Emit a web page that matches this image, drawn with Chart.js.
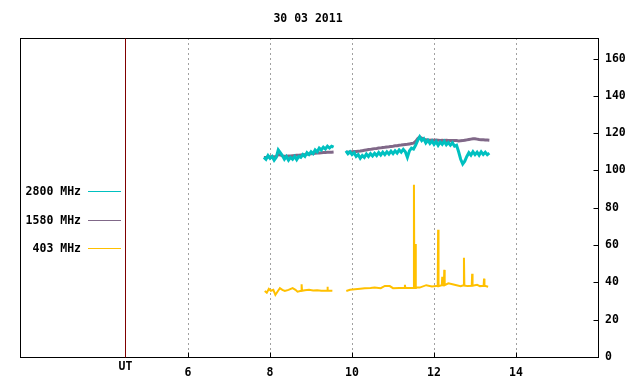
<!DOCTYPE html>
<html><head><meta charset="utf-8">
<script src="https://cdn.jsdelivr.net/npm/chart.js@4"></script>
<style>html,body{margin:0;padding:0;background:#fff}</style>
</head><body>
<canvas id="c" width="640" height="384"></canvas>
<script>
const chartTitle = '30 03 2011';
const xTicks = [6, 8, 10, 12, 14];
const yTicks = [0, 20, 40, 60, 80, 100, 120, 140, 160];
const utHour = 4.46;
const utLabel = 'UT';
const seriesNames = ['2800 MHz', '1580 MHz', '403 MHz'];

const timesUT = [7.85,7.90,7.95,8.00,8.05,8.10,8.15,8.20,8.25,8.30,8.35,8.40,8.45,8.50,8.55,8.60,8.65,8.70,8.75,8.80,8.85,8.90,8.95,9.00,9.05,9.10,9.15,9.20,9.25,9.30,9.35,9.40,9.45,9.50,9.55,
  9.70,
  9.85,9.90,9.95,
  10.00,10.05,10.10,10.15,10.20,10.25,10.30,10.35,10.40,10.45,10.50,10.55,10.60,10.65,10.70,10.75,10.80,10.85,10.90,10.95,
  11.00,11.05,11.10,11.15,11.20,11.25,11.30,11.35,11.40,11.45,11.50,11.55,11.60,11.65,11.70,11.75,11.80,11.85,11.90,11.95,
  12.00,12.05,12.10,12.15,12.20,12.25,12.30,12.35,12.40,12.45,12.50,12.55,12.60,12.65,12.70,12.75,12.80,12.85,12.90,12.95,
  13.00,13.05,13.10,13.15,13.20,13.25,13.30,13.35];

const mhz2800 = [107,106,108,106.5,107.5,105.5,107,111,109.5,108,106,107.5,105.5,107,106,107.5,105.8,107.5,107,108.5,107.5,109.5,108.5,110,109,111,110,112,111,112.5,111.5,113,112,113,112.5,
  null,
  110.5,109,110,
  108.5,109.5,107.5,108.5,106.5,108,107,108.8,107.5,109,107.8,109.2,108,109.6,108.3,109.8,108.5,110,108.8,110.3,
  109,110.5,109.3,111,109.8,111.3,110,107,110.5,112,111.5,113.5,116,118,116,117,114.8,116.2,114.5,115.8,
  114,115.5,113.5,115.2,114,115.6,113.8,115,113.6,114.8,113,113.5,110,106,103.5,105,107.5,109.5,108.2,110,
  108.5,109.8,108.2,110,108.6,109.8,108.5,109.3];

const mhz1580 = [107,107,107.2,107.3,107.3,107.4,107.5,108.5,108.3,107.8,107.6,107.6,107.7,107.8,107.9,108,108.1,108.2,108.3,108.4,108.5,108.7,108.8,109,109.1,109.2,109.3,109.4,109.5,109.6,109.6,109.7,109.8,109.8,109.9,
  null,
  109.7,109.8,109.9,
  110,110.1,110.2,110.3,110.4,110.6,110.8,111,111.2,111.3,111.5,111.7,111.8,112,112.1,112.3,112.4,112.6,112.7,112.9,
  113,113.2,113.3,113.5,113.6,113.8,113.9,114,114.2,114.4,114.6,115.5,117,118,117.3,116.8,116.4,116.3,116.2,116.3,
  116.2,116.3,116.2,116.1,116.2,116.1,116.2,116.1,116,116.1,116,116,115.8,115.9,116,116.2,116.4,116.6,116.8,117,
  117,116.8,116.6,116.5,116.4,116.3,116.3,116.2];

const times403 = [7.87,7.92,7.97,8.02,8.08,8.13,8.18,8.24,8.30,8.36,8.45,8.55,8.62,8.67,8.76,8.77,8.78,8.85,8.95,9.05,9.15,9.25,9.39,9.40,9.41,9.52,
  9.70,
  9.86,9.95,10.07,10.20,10.31,10.45,10.55,10.70,10.80,10.92,11.00,11.15,11.28,11.29,11.30,11.42,11.50,11.51,11.52,11.545,11.55,11.56,11.65,11.81,11.95,
  12.05,12.09,12.10,12.11,12.19,12.20,12.21,12.24,12.25,12.26,12.35,12.45,12.55,12.65,12.72,12.73,12.74,12.82,12.92,12.93,12.94,13.05,13.12,13.21,13.22,13.23,13.32];
const mhz403 = [35.4,34.5,36.5,35.5,36,33.3,35,36.9,36,35.4,36,36.9,36,35,35.5,39,35.5,35.8,36,35.6,35.8,35.5,35.6,37.6,35.6,35.5,
  null,
  35.4,36,36.3,36.6,36.9,37,37.2,36.9,38.1,38,36.9,37,37,38.7,37,37,37,92.3,37,37,60.6,37.2,37.2,38.5,37.8,
  38,38,68.2,38,38.5,43,38.5,38.5,46.7,38.5,39.5,39,38.5,38,38.5,53.2,38.3,38,38.2,44.6,38.2,38.7,38,38.2,42,38.2,37.7];

const FONT = '"DejaVu Sans Mono", "Liberation Mono", monospace';
const toPts = (xs, ys) => xs.map((t, i) => ({x: t, y: ys[i]}));

const decor = {
  id: 'decor',
  beforeDatasetsDraw(chart) {
    const {ctx, chartArea: a, scales: {x}} = chart;
    ctx.save();
    ctx.strokeStyle = '#a0a0a0';
    ctx.lineWidth = 1;
    ctx.setLineDash([2, 3]);
    xTicks.forEach(v => {
      const px = Math.round(x.getPixelForValue(v)) + 0.5;
      ctx.beginPath(); ctx.moveTo(px, a.top); ctx.lineTo(px, a.bottom); ctx.stroke();
    });
    ctx.restore();
  },
  afterDraw(chart) {
    const {ctx, chartArea: a, scales: {x, y}} = chart;
    ctx.save();
    ctx.setLineDash([]);
    ctx.strokeStyle = '#000';
    ctx.lineWidth = 1;
    const L = Math.round(a.left) + 0.5, R = Math.round(a.right) + 0.5;
    const T = Math.round(a.top) + 0.5, B = Math.round(a.bottom) + 0.5;
    ctx.strokeRect(L, T, R - L, B - T);
    xTicks.forEach(v => {
      const px = Math.round(x.getPixelForValue(v)) + 0.5;
      ctx.beginPath(); ctx.moveTo(px, B); ctx.lineTo(px, B - 5); ctx.stroke();
    });
    yTicks.forEach(v => {
      const py = Math.round(y.getPixelForValue(v)) + 0.5;
      ctx.beginPath(); ctx.moveTo(R, py); ctx.lineTo(R - 5, py); ctx.stroke();
    });
    const ux = Math.round(x.getPixelForValue(utHour)) + 0.5;
    ctx.strokeStyle = '#800000';
    ctx.beginPath(); ctx.moveTo(ux, T); ctx.lineTo(ux, B); ctx.stroke();
    ctx.fillStyle = '#000';
    ctx.font = 'bold 11.5px ' + FONT;
    ctx.textAlign = 'center'; ctx.textBaseline = 'middle';
    ctx.fillText(utLabel, ux, 367);
    ctx.fillText(chartTitle, 308, 19.5);
    chart.data.datasets.forEach((ds, i) => {
      const ly = 191 + i * 28.6;
      ctx.textAlign = 'right';
      ctx.fillStyle = '#000';
      ctx.fillText(ds.label, 81, ly + 1);
      ctx.strokeStyle = ds.borderColor;
      ctx.lineWidth = 1;
      const yy = Math.round(ly) + 0.5;
      ctx.beginPath(); ctx.moveTo(88, yy); ctx.lineTo(121, yy); ctx.stroke();
    });
    ctx.restore();
  }
};

new Chart(document.getElementById('c'), {
  type: 'line',
  data: {
    datasets: [
      {label: seriesNames[0], data: toPts(timesUT, mhz2800), borderColor: '#00c0c0', borderWidth: 3, pointRadius: 0, tension: 0, spanGaps: false, order: 0},
      {label: seriesNames[1], data: toPts(timesUT, mhz1580), borderColor: '#806888', borderWidth: 3, pointRadius: 0, tension: 0, spanGaps: false, order: 1},
      {label: seriesNames[2], data: toPts(times403, mhz403), borderColor: '#ffc000', borderWidth: 2, pointRadius: 0, tension: 0, spanGaps: false, order: 2}
    ]
  },
  options: {
    responsive: false,
    animation: false,
    devicePixelRatio: 1,
    layout: {padding: {top: 38, left: 20, right: 0, bottom: 0}},
    plugins: {legend: {display: false}, tooltip: {enabled: false}, title: {display: false}},
    scales: {
      x: {
        type: 'linear', min: 1.9, max: 16,
        afterBuildTicks: s => { s.ticks = xTicks.map(v => ({value: v})); },
        afterFit: s => { s.height = 27; },
        grid: {display: false, drawTicks: false},
        border: {display: false},
        ticks: {padding: 9, color: '#000', autoSkip: false, maxRotation: 0, font: {family: FONT, size: 11.5, weight: 'bold'}}
      },
      y: {
        type: 'linear', position: 'right', min: 0, max: 171,
        afterBuildTicks: s => { s.ticks = yTicks.map(v => ({value: v})); },
        afterFit: s => { s.width = 42; },
        grid: {display: false, drawTicks: false},
        border: {display: false},
        ticks: {padding: 7, color: '#000', font: {family: FONT, size: 11.5, weight: 'bold'}}
      }
    }
  },
  plugins: [decor]
});
</script>
</body></html>
